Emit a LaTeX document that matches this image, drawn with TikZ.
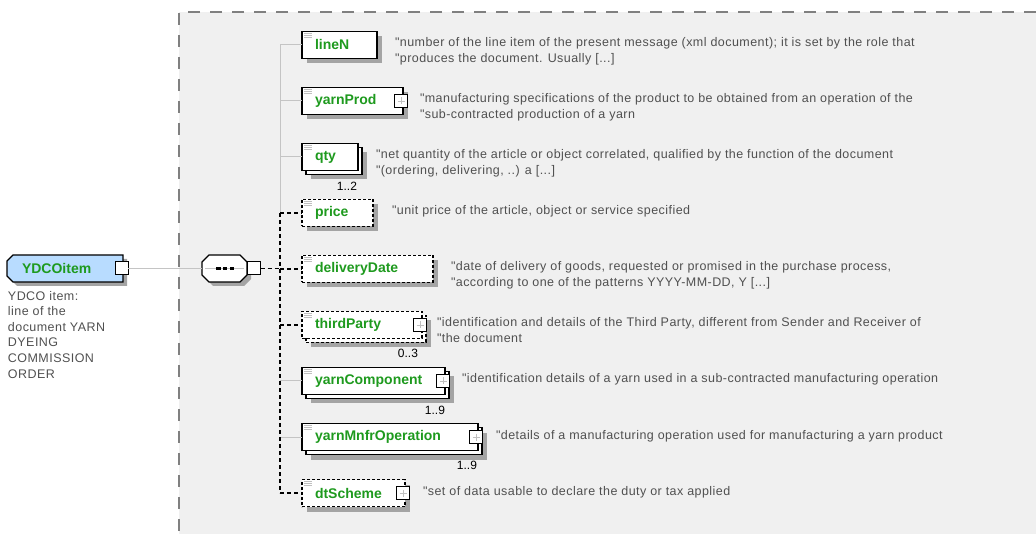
\documentclass[tikz,border=0pt]{standalone}
\usepackage{fontspec}
\setmainfont{Liberation Sans}
\newfontfamily\descfont[LetterSpace=3.6]{Liberation Sans}
\usetikzlibrary{shadows}
\pgfdeclarelayer{panel}
\pgfdeclarelayer{mid}
\pgfsetlayers{panel,mid,main}
\definecolor{bg}{HTML}{F0F0F0}
\definecolor{shgray}{HTML}{A4A4A4}
\definecolor{lblgreen}{HTML}{1E9A1E}
\definecolor{descgray}{HTML}{505050}
\definecolor{ydblue}{HTML}{B8DCFF}
\definecolor{conngray}{HTML}{C4C4C4}
\definecolor{framegray}{HTML}{808080}
\definecolor{icongray}{HTML}{C0C0C0}
\begin{document}
\begin{tikzpicture}[x=1pt,y=-1pt,
  every node/.style={inner sep=0pt, outer sep=0pt},
  ebox/.style={draw=black, line width=1.1pt, fill=white, minimum height=27pt, anchor=west,
    align=left, inner xsep=13pt, text=lblgreen, font=\fontsize{14}{16}\selectfont\bfseries},
  ew/.style 2 args={minimum width=#1pt, text width=#2pt},
  opt/.style={dash pattern=on 3pt off 2pt},
  single/.style={general shadow={shadow xshift=5pt, shadow yshift=-5pt, fill=shgray}},
  multi/.style={general shadow={shadow xshift=9pt, shadow yshift=-9pt, fill=shgray},
    general shadow={shadow xshift=4pt, shadow yshift=-4pt, fill=white, draw=black, line width=1.1pt}},
  optmulti/.style={general shadow={shadow xshift=9pt, shadow yshift=-9pt, fill=shgray},
    general shadow={shadow xshift=4pt, shadow yshift=-4pt, fill=white, draw=black, line width=1.1pt, dash pattern=on 3pt off 2pt}},
  sq/.style={draw=black, fill=white, line width=1pt, minimum size=13pt},
  plussq/.style={sq, path picture={
      \draw[icongray, line width=0.8pt] ([xshift=3pt]path picture bounding box.west) -- ([xshift=-3pt]path picture bounding box.east);
      \draw[icongray, line width=0.8pt] ([yshift=-3pt]path picture bounding box.north) -- ([yshift=3pt]path picture bounding box.south);}},
  outline/.style={draw=black, line width=1.1pt, general shadow={shadow xshift=4pt, shadow yshift=-4pt, fill=shgray}},
  desc/.style={anchor=base west, align=left, text=descgray, font=\descfont\fontsize{12.5}{16}\selectfont},
  mult/.style={anchor=east, font=\fontsize{12}{14}\selectfont, text=black},
  conn/.style={draw=conngray, line width=1pt},
  dconn/.style={draw=black, line width=1.1pt, dash pattern=on 4pt off 3pt},
  frame/.style={draw=framegray, line width=1.2pt, dash pattern=on 12pt off 10pt}
]
\path[use as bounding box] (0,0) rectangle (1036,534);
% background panel
\begin{pgfonlayer}{panel}
\fill[bg] (179,12) rectangle (1036,534);
\draw[frame] (1036,12) -- (179,12) -- (179,534);
\end{pgfonlayer}

% root element
\node[minimum width=116pt, minimum height=27pt, text width=100pt, align=left,
      text=lblgreen, font=\fontsize{14}{16}\selectfont\bfseries]
      (root) at (65,268.5) {\hspace*{7pt}YDCOitem};
\begin{pgfonlayer}{mid}
\path[outline, fill=ydblue] ([xshift=6pt]root.north west) -- (root.north east) -- (root.south east)
   -- ([xshift=6pt]root.south west) -- ([yshift=6pt]root.south west) -- ([yshift=-6pt]root.north west) -- cycle;
\end{pgfonlayer}
\node[sq] (rootsq) at (121.5,268.5) {};
\node[anchor=north west, align=left, text=descgray, font=\descfont\fontsize{12.5}{15.6}\selectfont]
  (rootdesc) at (8,291) {YDCO item:\\line of the\\document YARN\\DYEING\\COMMISSION\\ORDER};

% sequence compositor
\node[minimum width=45pt, minimum height=27pt] (seq) at (224.5,268.5) {};
\begin{pgfonlayer}{mid}
\path[outline, fill=white] ([xshift=7pt]seq.north west) -- ([xshift=-7pt]seq.north east)
   -- ([yshift=-7pt]seq.north east) -- ([yshift=7pt]seq.south east) -- ([xshift=-7pt]seq.south east)
   -- ([xshift=7pt]seq.south west) -- ([yshift=7pt]seq.south west) -- ([yshift=-7pt]seq.north west) -- cycle;
\end{pgfonlayer}
\draw[conngray, line width=1pt] ([xshift=3pt]seq.west) -- ([xshift=-3pt]seq.east);
\foreach \dx in {-8.5,-1.75,5}
  \fill[black] ([xshift=\dx pt, yshift=-1.25pt]seq.center) rectangle ++(4.5,-2.5);
\node[sq] (seqsq) at (254,268.5) {};

\draw[conn] (rootsq.east) -- (seq.west);

% children
\node[ebox, ew={75}{49}, single] (lineN) at (302,45) {lineN};
\node[ebox, ew={101}{75}, single] (yarnProd) at (302,101) {yarnProd};
\node[ebox, ew={56}{30}, multi] (qty) at (302,157) {qty};
\node[ebox, ew={71}{45}, single, opt] (price) at (302,213) {price};
\node[ebox, ew={131}{105}, single, opt] (deliveryDate) at (302,269) {deliveryDate};
\node[ebox, ew={120}{94}, optmulti, opt] (thirdParty) at (302,325) {thirdParty};
\node[ebox, ew={143}{117}, multi] (yarnComponent) at (302,381) {yarnComponent};
\node[ebox, ew={176}{150}, multi] (yarnMnfrOperation) at (302,437) {yarnMnfrOperation};
\node[ebox, ew={103}{77}, single, opt] (dtScheme) at (302,493) {dtScheme};

\foreach \n in {lineN,yarnProd,qty,price,deliveryDate,thirdParty,yarnComponent,yarnMnfrOperation,dtScheme}
  \foreach \dy in {2,4,6}
    \draw[icongray, line width=0.8pt] ([shift={(2,\dy)}]\n.north west) -- +(8,0);

\foreach \n in {yarnProd,thirdParty,yarnComponent,yarnMnfrOperation,dtScheme}
  \node[plussq] (\n-plus) at ([xshift=-2pt]\n.east) {};

% multiplicities
\node[mult] (qty-m) at ([shift={(-1,16)}]qty.south east) {1..2};
\node[mult] (thirdParty-m) at ([shift={(-4,15)}]thirdParty.south east) {0..3};
\node[mult] (yarnComponent-m) at ([shift={(0,16)}]yarnComponent.south east) {1..9};
\node[mult] (yarnMnfrOperation-m) at ([shift={(-1,15)}]yarnMnfrOperation.south east) {1..9};

% trunk and connectors
\coordinate (trunk) at (280,0);
\draw[conn] (lineN.west -| trunk) -- (price.west -| trunk);
\foreach \n in {lineN,yarnProd,qty,yarnComponent,yarnMnfrOperation}
  \draw[conn] (\n.west -| trunk) -- (\n.west);
\draw[dconn] (price.west -| trunk) -- (dtScheme.west -| trunk);
\foreach \n in {price,deliveryDate,thirdParty,dtScheme}
  \draw[dconn] (\n.west -| trunk) -- (\n.west);
\draw[dconn] (seqsq.east) -- (seqsq.east -| trunk);

% descriptions (base = baseline of last line)
\node[desc] (lineN-d) at (395,63) {"number of the line item of the present message (xml document); it is set by the role that\\"produces the document. Usually [...]};
\node[desc] (yarnProd-d) at (420,119) {"manufacturing specifications of the product to be obtained from an operation of the\\"sub-contracted production of a yarn};
\node[desc] (qty-d) at (376,175) {"net quantity of the article or object correlated, qualified by the function of the document\\"(ordering, delivering, ..) a [...]};
\node[desc] (price-d) at (392,215) {"unit price of the article, object or service specified};
\node[desc] (deliveryDate-d) at (451,287) {"date of delivery of goods, requested or promised in the purchase process,\\"according to one of the patterns YYYY-MM-DD, Y [...]};
\node[desc] (thirdParty-d) at (437,343) {"identification and details of the Third Party, different from Sender and Receiver of\\"the document};
\node[desc] (yarnComponent-d) at (462,383) {"identification details of a yarn used in a sub-contracted manufacturing operation};
\node[desc] (yarnMnfrOperation-d) at (496,439) {"details of a manufacturing operation used for manufacturing a yarn product};
\node[desc] (dtScheme-d) at (423,495) {"set of data usable to declare the duty or tax applied};
\end{tikzpicture}
\end{document}
